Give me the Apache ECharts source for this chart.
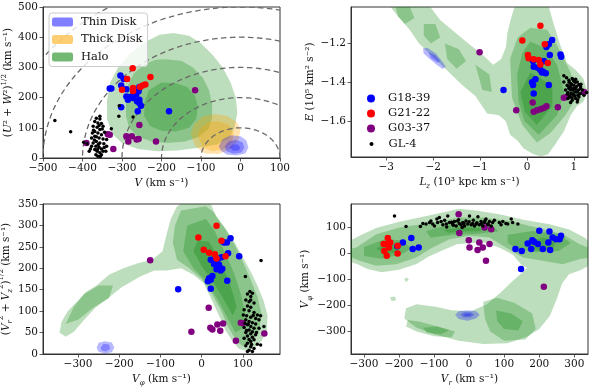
<!DOCTYPE html>
<html><head><meta charset="utf-8">
<script src="https://cdn.jsdelivr.net/npm/echarts@6/dist/echarts.min.js"></script>
<style>html,body{margin:0;padding:0;background:#fff}#c{width:592px;height:387px}</style>
</head><body><div id="c"></div>
<script>
// ---------- tick labels ----------
const p1XTicks = [-500,-400,-300,-200,-100,0,100];
const p1YTicks = [0,100,200,300,400,500];
const p2XTicks = [-3,-2,-1,0,1];
const p2YTicks = [-1.6,-1.4,-1.2];
const p3XTicks = [-300,-200,-100,0,100];
const p3YTicks = [0,50,100,150,200,250,300,350];
const p4XTicks = [-300,-200,-100,0,100,200,300];
const p4YTicks = [-300,-200,-100,0,100];
const circleRadii = [100,200,300,400,500,600];

// ---------- panel 1: V vs (U^2+W^2)^1/2 ----------
const p1Blue = [[-304,273],[-296,262],[-302,240],[-331,230],[-327,230],[-289,228],[-289,204],[-276,204],[-285,193],[-272,199],[-264,210],[-256,235],[-262,188],[-256,182],[-252,173],[-260,155],[-302,168],[-181,155],[-258,221],[-256,193]];
const p1Red = [[-273,297],[-287,262],[-300,226],[-272,232],[-272,222],[-228,268],[-254,235],[-248,240],[-241,243]];
const p1Purple = [[-115,224],[-256,109],[-336,79],[-331,77],[-390,50],[-289,72],[-275,72],[-284,55],[-263,61],[-258,63],[-214,55],[-322,30]];
const p1Black = [[-365,132],[-356,129],[-369,121],[-361,116],[-352,114],[-373,105],[-363,102],[-348,105],[-356,94],[-369,88],[-361,83],[-344,85],[-352,77],[-369,72],[-377,66],[-358,66],[-348,63],[-365,55],[-373,50],[-356,50],[-346,47],[-366,39],[-358,36],[-369,28],[-352,30],[-363,22],[-356,17],[-366,11],[-361,6],[-352,11],[-348,22],[-339,39],[-397,52],[-383,22],[-388,47],[-377,39],[-341,22],[-356,138],[-339,61],[-375,83],[-365,70],[-470,124],[-430,87],[-307,173],[-308,138],[-272,136],[-327,97],[-360,45],[-370,60],[-350,96],[-362,28],[-355,5],[-345,35],[-380,30],[-372,92],[-358,108]];
const p1Halo = [
  [[-170,414],[-130,405],[-100,380],[-70,340],[-45,300],[-25,250],[-12,200],[-8,150],[-15,100],[-30,65],[-60,45],[-110,33],[-160,25],[-210,22],[-260,30],[-300,50],[-325,80],[-338,130],[-338,190],[-330,250],[-310,300],[-280,345],[-240,385],[-205,408]],
  [[-190,327],[-150,322],[-120,300],[-95,265],[-80,225],[-72,180],[-72,130],[-82,95],[-105,70],[-140,55],[-185,50],[-225,55],[-260,70],[-282,100],[-290,140],[-290,190],[-285,240],[-270,280],[-245,310],[-215,325]],
  [[-200,250],[-165,248],[-135,235],[-115,205],[-108,170],[-112,130],[-130,100],[-165,88],[-200,90],[-228,105],[-244,140],[-243,185],[-232,225]]
];
const p1Thick = [
  [[-126,80],[-118,110],[-95,138],[-65,146],[-35,140],[-10,120],[0,95],[-5,60],[-25,30],[-55,13],[-90,15],[-115,40]],
  [[-108,75],[-100,100],[-80,118],[-55,122],[-30,110],[-18,85],[-20,55],[-40,30],[-70,22],[-95,35]]
];
const p1Thin = [
  [[-55,40],[-45,62],[-25,75],[0,72],[15,58],[20,35],[12,15],[-10,8],[-35,12],[-50,25]],
  [[-40,38],[-30,55],[-12,60],[5,52],[10,35],[2,18],[-18,14],[-35,22]],
  [[-28,35],[-20,45],[-8,45],[0,35],[-5,25],[-18,23]]
];

// ---------- panel 2: Lz vs E ----------
const p2Blue = [[0.536,-1.183],[0.464,-1.205],[0.414,-1.219],[0.486,-1.26],[0.714,-1.257],[0.729,-1.269],[0.129,-1.29],[0.143,-1.32],[0.229,-1.325],[0.286,-1.337],[0.343,-1.346],[0.4,-1.354],[0.179,-1.384],[0.107,-1.40],[0.129,-1.414],[0.464,-1.414],[0.143,-1.457],[-0.5,-1.44],[0.36,-1.29],[0.32,-1.35]];
const p2Red = [[0.286,-1.109],[-0.1,-1.185],[0.379,-1.205],[0.02,-1.26],[0.036,-1.277],[0.143,-1.281],[0.25,-1.286],[0.286,-1.308],[0.443,-1.301]];
const p2Purple = [[-1.01,-1.245],[0.121,-1.504],[-0.229,-1.544],[0.143,-1.552],[0.214,-1.544],[0.286,-1.538],[0.357,-1.532],[0.414,-1.523],[0.657,-1.528],[0.786,-1.48],[0.843,-1.475],[1.214,-1.45]];
const p2Black = [[0.786,-1.367],[0.843,-1.377],[0.893,-1.389],[0.964,-1.38],[1.036,-1.384],[1.071,-1.398],[0.929,-1.406],[0.857,-1.415],[1.0,-1.415],[1.107,-1.411],[1.143,-1.423],[0.893,-1.432],[0.964,-1.435],[1.036,-1.432],[1.179,-1.44],[0.871,-1.453],[0.943,-1.458],[1.071,-1.449],[1.143,-1.458],[1.0,-1.466],[0.914,-1.475],[1.036,-1.483],[1.107,-1.475],[0.964,-1.492],[1.071,-1.501],[0.929,-1.504],[1.214,-1.466],[0.821,-1.44],[0.786,-1.398],[1.271,-1.453],[1.0,-1.394],[1.143,-1.432],[1.086,-1.466],[0.871,-1.483],[1.021,-1.449],[0.929,-1.423],[0.9,-1.40],[0.95,-1.41],[1.0,-1.43],[1.05,-1.45],[0.98,-1.46],[0.93,-1.44],[1.1,-1.44],[1.02,-1.47],[0.96,-1.48],[1.06,-1.42],[0.88,-1.42],[1.12,-1.46],[0.99,-1.39],[1.08,-1.49],[0.94,-1.46],[1.15,-1.41],[0.91,-1.47],[1.03,-1.40],[0.86,-1.46],[0.97,-1.44]];
const p2Halo = [
  [[-2.95,-1.0],[-2.1,-1.0],[-1.85,-1.08],[-1.55,-1.14],[-1.25,-1.2],[-0.94,-1.26],[-0.72,-1.31],[-0.55,-1.28],[-0.45,-1.22],[-0.42,-1.15],[-0.35,-1.08],[-0.25,-1.0],[0.45,-1.0],[0.57,-1.10],[0.71,-1.21],[0.85,-1.30],[1.05,-1.34],[1.2,-1.38],[1.29,-1.45],[1.2,-1.50],[1.07,-1.52],[0.93,-1.57],[0.79,-1.65],[0.6,-1.72],[0.45,-1.77],[0.3,-1.78],[0.14,-1.77],[-0.07,-1.74],[-0.2,-1.70],[-0.36,-1.67],[-0.45,-1.60],[-0.6,-1.57],[-0.85,-1.56],[-1.1,-1.47],[-1.4,-1.41],[-1.7,-1.34],[-2.0,-1.27],[-2.3,-1.2],[-2.5,-1.13],[-2.75,-1.06]],
  [[0.07,-1.12],[0.43,-1.13],[0.64,-1.21],[0.93,-1.35],[1.07,-1.47],[0.82,-1.57],[0.5,-1.66],[0.21,-1.71],[-0.1,-1.62],[-0.32,-1.48],[-0.36,-1.28],[-0.2,-1.17]],
  [[-2.8,-1.01],[-2.5,-1.01],[-2.4,-1.07],[-2.6,-1.1],[-2.75,-1.06]],
  [[-2.2,-1.1],[-1.95,-1.1],[-1.85,-1.17],[-2.05,-1.2],[-2.2,-1.16]],
  [[-1.75,-1.2],[-1.45,-1.23],[-1.3,-1.29],[-1.5,-1.33],[-1.7,-1.28]],
  [[-1.1,-1.31],[-0.8,-1.36],[-0.75,-1.45],[-0.95,-1.44]],
  [[0.07,-1.19],[0.43,-1.23],[0.64,-1.31],[0.79,-1.45],[0.64,-1.57],[0.25,-1.67],[-0.05,-1.6],[-0.18,-1.5],[-0.21,-1.36],[-0.1,-1.25]],
  [[0.07,-1.35],[0.54,-1.415],[0.54,-1.52],[0.21,-1.62],[-0.05,-1.55],[-0.14,-1.45]]
];
const p2Thin = [
  [[-2.218,-1.226],[-2.125,-1.223],[-1.944,-1.252],[-1.80,-1.295],[-1.73,-1.32],[-1.80,-1.332],[-1.91,-1.312],[-2.09,-1.277],[-2.20,-1.252]],
  [[-2.1,-1.245],[-1.95,-1.262],[-1.85,-1.29],[-1.9,-1.30],[-2.05,-1.275]]
];

// ---------- panel 3: Vphi vs (Vr^2+Vz^2)^1/2 ----------
const p3Blue = [[70,270],[61,260],[54,260],[64,235],[91,228],[22,220],[48,226],[30,210],[42,208],[50,199],[46,195],[36,198],[18,177],[22,173],[26,182],[22,152],[62,171],[-57,151],[40,222],[15,170]];
const p3Red = [[36,299],[-8,272],[48,264],[5,243],[18,236],[32,233],[36,223],[58,228]];
const p3Purple = [[-125,219],[17,108],[-25,52],[21,61],[26,57],[38,69],[52,71],[45,54],[83,31],[95,73],[152,48],[100,72]];
const p3Black = [[117,146],[111,140],[119,134],[107,126],[115,122],[127,119],[111,112],[119,109],[103,103],[115,101],[127,97],[135,91],[109,89],[119,86],[143,89],[107,80],[115,76],[123,73],[131,70],[111,68],[119,64],[103,62],[127,60],[139,60],[115,56],[123,52],[107,50],[119,47],[131,45],[111,42],[123,39],[103,37],[115,34],[127,33],[119,29],[111,25],[135,23],[107,19],[119,17],[127,13],[115,9],[123,6],[111,6],[143,21],[151,64],[139,80],[101,91],[131,83],[119,126],[123,142],[144,218],[106,181],[113,70],[125,90],[109,55],[121,22],[133,50],[105,72]];
const p3Halo = [
  [[-345,50],[-340,75],[-325,100],[-300,125],[-280,145],[-255,160],[-225,185],[-190,200],[-155,212],[-120,220],[-95,240],[-85,280],[-75,315],[-60,345],[-40,355],[20,355],[35,320],[60,290],[80,260],[100,225],[120,190],[135,160],[150,125],[160,90],[158,55],[145,30],[125,12],[105,8],[90,12],[75,30],[58,55],[42,90],[25,125],[5,165],[-20,185],[-50,200],[-85,195],[-115,195],[-150,180],[-195,155],[-225,132],[-258,108],[-285,80],[-310,52],[-330,40]],
  [[-50,335],[10,345],[30,330],[55,295],[80,255],[100,215],[118,175],[135,135],[145,95],[140,55],[120,25],[100,18],[85,30],[65,62],[48,100],[25,140],[0,175],[-30,200],[-60,220],[-70,260],[-65,300]],
  [[-330,70],[-310,110],[-285,140],[-250,160],[-215,160],[-225,130],[-260,110],[-300,80]],
  [[-35,300],[10,315],[30,290],[55,240],[78,190],[95,140],[105,95],[100,60],[82,50],[62,85],[40,125],[15,165],[-20,200],[-45,240]],
  [[-10,265],[18,262],[46,215],[70,160],[85,110],[75,90],[55,125],[30,165],[0,205],[-20,240]]
];
const p3Thin = [
  [[-255,15],[-250,26],[-235,30],[-218,27],[-212,15],[-218,4],[-235,1],[-250,5]],
  [[-245,15],[-238,24],[-225,22],[-222,12],[-232,6],[-243,8]]
];

// ---------- panel 4: Vr vs Vphi ----------
const p4Blue = [[-189,42],[-165,59],[-161,17],[-144,23],[-205,28],[132,17],[150,10],[167,38],[180,51],[177,17],[196,36],[200,87],[210,17],[226,42],[229,84],[231,13],[238,61],[248,55],[258,55],[262,68],[148,-60],[185,45]];
const p4Red = [[-232,59],[-225,42],[-237,36],[-229,23],[-242,10],[-235,-9],[-204,30],[-204,0],[-244,36]];
const p4Purple = [[-30,151],[-28,79],[44,100],[63,93],[-1,51],[29,42],[58,36],[1,23],[24,13],[39,23],[48,-28],[213,-128]];
const p4Black = [[-213,144],[-180,104],[-139,104],[-132,115],[-123,113],[-113,119],[-109,125],[-104,113],[-99,106],[-92,132],[-90,119],[-85,138],[-80,123],[-75,110],[-70,128],[-64,102],[-61,144],[-56,119],[-47,113],[-42,123],[-37,106],[-33,125],[-28,115],[-23,110],[-18,119],[-13,106],[-9,125],[-4,113],[1,144],[6,110],[10,115],[15,106],[20,113],[25,141],[29,110],[34,123],[39,106],[44,119],[48,132],[53,113],[58,123],[63,106],[67,119],[72,128],[86,119],[91,110],[96,123],[105,115],[110,113],[120,132],[124,119],[139,113],[-50,120],[-45,108],[-30,130],[-15,115],[0,122],[12,128],[22,118],[35,115],[45,126],[55,110],[-65,113],[-20,100]];
const p4Halo = [
  [[-345,45],[-310,70],[-265,98],[-200,122],[-125,143],[-60,162],[-30,172],[20,165],[90,150],[155,130],[230,112],[285,92],[330,60],[345,40],[345,-45],[315,-65],[285,-80],[265,-115],[250,-175],[230,-240],[200,-290],[165,-320],[110,-345],[40,-348],[-30,-335],[-95,-312],[-150,-285],[-185,-250],[-180,-210],[-150,-195],[-95,-205],[-50,-218],[5,-222],[50,-195],[90,-150],[120,-110],[150,-75],[165,-55],[150,-45],[125,-5],[90,20],[45,42],[5,40],[-35,35],[-75,12],[-115,-12],[-150,-40],[-200,-62],[-250,-72],[-290,-60],[-320,-40],[-345,-30]],
  [[-185,-98],[-178,-92],[-172,-100],[-180,-110]],
  [[-225,-168],[-212,-165],[-208,-180],[-222,-182]],
  [[-322,23],[-265,74],[-199,100],[-104,119],[-28,138],[39,138],[115,125],[191,100],[267,74],[314,36],[345,20],[345,-15],[314,-22],[267,-41],[210,-28],[153,-15],[105,23],[58,61],[1,68],[-56,55],[-104,23],[-151,-15],[-208,-41],[-265,-47],[-313,-28],[-345,-10],[-345,15]],
  [[-175,-255],[-140,-262],[-90,-280],[-40,-300],[-50,-322],[-100,-318],[-150,-300],[-180,-280]],
  [[40,-185],[80,-170],[130,-190],[180,-230],[190,-290],[160,-330],[100,-335],[60,-300],[45,-250]],
  [[-300,25],[-240,55],[-190,50],[-165,20],[-195,-5],[-250,-20],[-300,-10]],
  [[-123,85],[-60,110],[0,118],[60,110],[85,85],[20,75],[-50,72],[-110,60]],
  [[110,72],[180,86],[255,75],[290,40],[255,10],[190,5],[135,18],[110,40]],
  [[77,-219],[120,-230],[153,-260],[140,-296],[100,-290],[80,-260]],
  [[-132,-285],[-90,-280],[-56,-295],[-80,-309],[-120,-305]],
  [[-265,20],[-230,36],[-200,30],[-205,5],[-240,-2]],
  [[172,45],[210,61],[248,50],[240,20],[200,10],[175,20]],
  [[-70,90],[-20,100],[30,98],[35,85],[-10,84],[-60,80]]
];
const p4Thin = [
  [[-40,-235],[-30,-222],[-5,-218],[20,-222],[30,-235],[20,-250],[-5,-258],[-30,-252]],
  [[-25,-235],[-15,-226],[5,-226],[15,-235],[5,-245],[-15,-246]],
  [[-15,-234],[-5,-230],[8,-233],[0,-240],[-12,-240]]
];

// ---------- styling ----------
const FONT = 'DejaVu Serif';
const C_HALO = 'rgba(0,128,0,0.26)', C_THICK = 'rgba(255,165,0,0.32)', C_THIN = 'rgba(0,0,255,0.28)';
const L_HALO = 'rgba(0,128,0,0.55)', L_THICK = 'rgba(255,165,0,0.55)', L_THIN = 'rgba(0,0,255,0.5)';
const fmt = v => String(Math.round(v*1000)/1000).replace('-', '\u2212');
const rich = {
  n: {fontFamily: FONT, fontSize: 10.5, color: '#111', lineHeight: 16},
  i: {fontFamily: FONT, fontSize: 10.5, fontStyle: 'italic', color: '#111', lineHeight: 16},
  sup: {fontFamily: FONT, fontSize: 7, color: '#111', verticalAlign: 'top', lineHeight: 9},
  sub: {fontFamily: FONT, fontSize: 7, fontStyle: 'italic', color: '#111', verticalAlign: 'bottom', lineHeight: 9}
};

function polySeries(name, polys, fill, idx, legendColor) {
  return {
    type: 'custom', name, xAxisIndex: idx, yAxisIndex: idx, clip: true, silent: true, z: 1,
    itemStyle: {color: legendColor},
    data: polys.map(p => p[0]),
    renderItem: (params, api) => ({
      type: 'polygon',
      shape: {points: polys[params.dataIndex].map(pt => api.coord(pt))},
      style: {fill: fill, stroke: null}
    })
  };
}
function sc(name, data, color, size, idx) {
  return {type: 'scatter', name, data, xAxisIndex: idx, yAxisIndex: idx, symbolSize: size,
    itemStyle: {color: color, opacity: 1}, silent: true, z: 4};
}
function axis(gi, min, max, ticks, name, gap) {
  return {
    type: 'value', gridIndex: gi, min, max,
    axisLine: {show: true, onZero: false, lineStyle: {color: '#333', width: 1}},
    axisTick: {show: true, length: 3.5, inside: false, lineStyle: {color: '#333', width: 0.8}, customValues: ticks},
    axisLabel: {customValues: ticks, formatter: fmt, fontFamily: FONT, fontSize: 10.5, color: '#111', margin: 5},
    splitLine: {show: false},
    name, nameLocation: 'middle', nameGap: gap, nameTextStyle: {rich}
  };
}
const gridBase = {show: true, borderColor: '#333', borderWidth: 1, backgroundColor: 'rgba(0,0,0,0)', containLabel: false, outerBoundsMode: 'none'};
const KM = ' (km s\u207B\u00B9)';

const option = {
  animation: false,
  backgroundColor: '#fff',
  grid: [
    Object.assign({left: 43, top: 7, width: 237, height: 151}, gridBase),
    Object.assign({left: 351, top: 7, width: 237, height: 150}, gridBase),
    Object.assign({left: 43, top: 204, width: 237, height: 150}, gridBase),
    Object.assign({left: 351, top: 204, width: 237, height: 150}, gridBase)
  ],
  xAxis: [
    axis(0, -500, 100, p1XTicks, '{i|V}{n|' + KM + '}', 17),
    axis(1, -3.75, 1.3, p2XTicks, '{i|L}{sub|z}{n| (10\u00B3 kpc km s\u207B\u00B9)}', 17),
    axis(2, -385, 190, p3XTicks, '{i|V}{sub|\u03C6}{n|' + KM + '}', 17),
    axis(3, -337, 339, p4XTicks, '{i|V}{sub|r}{n|' + KM + '}', 17)
  ],
  yAxis: [
    axis(0, 0, 500, p1YTicks, '{n|(}{i|U}{n|\u00B2 + }{i|W}{n|\u00B2)}{sup|1/2}{n|' + KM + '}', 22),
    axis(1, -1.784, -1.013, p2YTicks, '{i|E}{n| (10\u2075 km\u00B2 s\u207B\u00B2)}', 33),
    axis(2, 0, 350, p3YTicks, '{n|(}{i|V}{sub|r}{sup|2}{n| + }{i|V}{sub|z}{sup|2}{n|)}{sup|1/2}{n|' + KM + '}', 23),
    axis(3, -386, 190, p4YTicks, '{i|V}{sub|\u03C6}{n|' + KM + '}', 34)
  ],
  legend: [
    {data: [{name: 'Thin Disk', itemStyle: {color: L_THIN}}, {name: 'Thick Disk', itemStyle: {color: L_THICK}}, {name: 'Halo', itemStyle: {color: L_HALO}}],
     orient: 'vertical', left: 49, top: 13, itemWidth: 21, itemHeight: 9, itemGap: 4.5, icon: 'roundRect',
     selectedMode: false, backgroundColor: 'rgba(255,255,255,0.8)', borderColor: '#ccc', borderWidth: 1, borderRadius: 3,
     padding: [2.5, 5, 3, 3],
     textStyle: {fontFamily: FONT, fontSize: 11.5, color: '#111', lineHeight: 13, padding: [0, 0, 0, 3]}},
    {data: ['G18-39', 'G21-22', 'G03-37'], orient: 'vertical', left: 367, top: 92, itemWidth: 8, itemHeight: 8, itemGap: 2,
     selectedMode: false, icon: 'circle', padding: 0,
     textStyle: {fontFamily: FONT, fontSize: 11.5, color: '#111', lineHeight: 13, padding: [0, 0, 0, 8]}},
    {data: ['GL-4'], orient: 'vertical', left: 369.5, top: 137.5, itemWidth: 4, itemHeight: 4, selectedMode: false, icon: 'circle', padding: 0,
     textStyle: {fontFamily: FONT, fontSize: 11.5, color: '#111', lineHeight: 13, padding: [0, 0, 0, 10]}}
  ],
  series: [
    polySeries('Halo', p1Halo, C_HALO, 0, L_HALO),
    polySeries('Thick Disk', p1Thick, C_THICK, 0, L_THICK),
    polySeries('Thin Disk', p1Thin, C_THIN, 0, L_THIN),
    {type: 'custom', name: 'circles', xAxisIndex: 0, yAxisIndex: 0, clip: true, silent: true, z: 2,
     data: circleRadii.map(r => [-r, 0]),
     renderItem: (params, api) => {
       const r = circleRadii[params.dataIndex], pts = [];
       for (let k = 0; k <= 120; k++) { const t = Math.PI * k / 120; pts.push(api.coord([r * Math.cos(t), r * Math.sin(t)])); }
       return {type: 'polyline', shape: {points: pts}, style: {stroke: '#6a6a6a', lineWidth: 1.3, lineDash: [5.5, 3.5], fill: null}};
     }},
    sc('G18-39', p1Blue, '#0000ff', 6.5, 0),
    sc('G21-22', p1Red, '#ff0000', 6.5, 0),
    sc('G03-37', p1Purple, '#800080', 6.5, 0),
    sc('GL-4', p1Black, '#000', 3.5, 0),

    polySeries('Halo', p2Halo, C_HALO, 1, L_HALO),
    polySeries('Thin Disk', p2Thin, C_THIN, 1, L_THIN),
    sc('G18-39', p2Blue, '#0000ff', 6.5, 1),
    sc('G21-22', p2Red, '#ff0000', 6.5, 1),
    sc('G03-37', p2Purple, '#800080', 6.5, 1),
    sc('GL-4', p2Black, '#000', 3.5, 1),

    polySeries('Halo', p3Halo, C_HALO, 2, L_HALO),
    polySeries('Thin Disk', p3Thin, C_THIN, 2, L_THIN),
    sc('G18-39', p3Blue, '#0000ff', 6.5, 2),
    sc('G21-22', p3Red, '#ff0000', 6.5, 2),
    sc('G03-37', p3Purple, '#800080', 6.5, 2),
    sc('GL-4', p3Black, '#000', 3.5, 2),

    polySeries('Halo', p4Halo, C_HALO, 3, L_HALO),
    polySeries('Thin Disk', p4Thin, C_THIN, 3, L_THIN),
    sc('G18-39', p4Blue, '#0000ff', 6.5, 3),
    sc('G21-22', p4Red, '#ff0000', 6.5, 3),
    sc('G03-37', p4Purple, '#800080', 6.5, 3),
    sc('GL-4', p4Black, '#000', 3.5, 3)
  ]
};
const chart = echarts.init(document.getElementById('c'), null, {renderer: 'canvas'});
chart.setOption(option);
</script>
</body></html>
